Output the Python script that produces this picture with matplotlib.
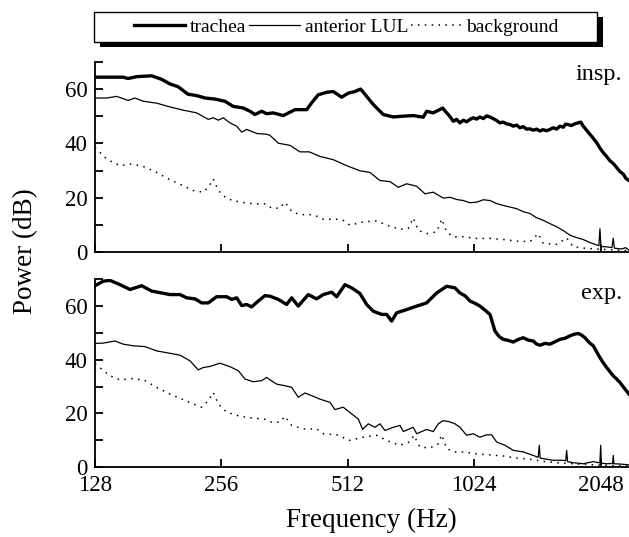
import matplotlib
matplotlib.use('Agg')
import matplotlib.pyplot as plt
from matplotlib.patches import Rectangle
from matplotlib.lines import Line2D
from matplotlib.ticker import NullLocator, FixedLocator

plt.rcParams['font.family'] = ['Liberation Serif', 'DejaVu Serif']

# ---------------- data (frequency in Hz, power in dB) ----------------
insp_trachea_f = [128, 149.5, 153.4, 160.9, 174.7, 184.5, 193.1, 201.8, 213.2, 223.6,
                  234, 247.2, 261.1, 273.3, 288.7, 299.5, 307.8, 319.3, 328.2, 340.3,
                  359.5, 383.3, 408.7, 420, 435.5, 456, 472.9, 495.1, 513.4, 532.6,
                  549.5, 567.9, 588.9, 622, 657.1, 694.2, 733.3, 774.6, 789.2, 818.3,
                  861.6, 875, 888.5, 900, 913.2, 930, 947.4, 965, 982, 1000.7,
                  1020, 1038, 1057.2, 1077, 1097, 1116.8, 1140, 1160, 1179.7, 1200,
                  1225, 1246.3, 1270, 1293, 1316.4, 1340, 1365, 1390.6, 1416, 1442,
                  1469, 1495, 1523, 1551.9, 1580, 1610, 1639.4, 1670, 1690, 1715.7,
                  1745, 1780, 1812.4, 1837, 1862.7, 1897, 1932.4, 1968, 2004.7, 2041,
                  2078.6, 2117, 2156.5, 2196, 2237.2, 2278, 2319.7, 2356, 2393.6]
insp_trachea_v = [64.5, 64.5, 64.0, 64.7, 65.0, 63.7, 62.0, 61.0, 58.2, 57.7,
                  56.8, 56.4, 55.6, 53.7, 53.1, 51.9, 50.7, 51.9, 51.0, 51.3,
                  50.3, 52.5, 52.5, 55.0, 58.0, 58.9, 59.2, 57.1, 58.6, 59.2,
                  60.1, 57.4, 54.4, 50.7, 49.8, 50.1, 50.3, 49.7, 51.9, 51.3,
                  53.1, 51.8, 50.7, 49.6, 48.2, 48.9, 47.6, 48.6, 48.0, 48.9,
                  49.5, 49.0, 49.8, 49.2, 50.2, 49.8, 49.1, 48.4, 47.6, 47.9,
                  47.2, 47.0, 46.4, 46.8, 45.8, 46.2, 45.3, 45.4, 44.9, 45.3,
                  44.6, 45.1, 44.7, 45.2, 45.8, 45.3, 46.4, 46.0, 47.1, 47.0,
                  46.6, 47.3, 47.6, 47.9, 46.4, 44.9, 43.4, 41.9, 40.3, 38.3,
                  36.6, 35.2, 33.6, 32.6, 31.1, 29.6, 28.7, 27.0, 26.3]

insp_lul_f = [128, 136.5, 144.2, 153.6, 159.4, 166.8, 179.5, 193.1, 207.7, 223.6,
              238.3, 244.9, 251.7, 258.7, 268.4, 278.4, 286.2, 294.1, 310.7, 328.2,
              334.2, 349.8, 372.9, 393.9, 414.6, 439.6, 472.9, 508.9, 547.4, 578.3,
              610.9, 645.3, 675.4, 707.2, 747.1, 781.9, 818.3, 864.4, 896.8, 930,
              964.7, 1000, 1038.3, 1077, 1116.8, 1158, 1201.2, 1246, 1292.8, 1340,
              1390.6, 1440, 1495.8, 1550, 1610.1, 1670, 1731.7, 1797, 1862.7, 1932,
              2004.7, 2030, 2041, 2053, 2117.9, 2180, 2196, 2210, 2237.2, 2300,
              2350, 2393.6]
insp_lul_v = [56.8, 56.8, 57.4, 55.9, 56.8, 55.6, 54.9, 53.5, 52.3, 51.3,
              48.9, 49.5, 48.6, 49.5, 47.6, 46.4, 44.2, 45.2, 43.7, 43.4,
              43.0, 40.1, 39.3, 36.9, 36.9, 35.2, 34.0, 31.8, 29.9, 29.3,
              26.3, 25.9, 23.8, 25.1, 24.2, 21.4, 22.0, 19.8, 20.1, 19.3,
              18.9, 18.1, 18.3, 19.2, 18.9, 17.8, 17.1, 16.5, 15.9, 14.8,
              14.1, 12.6, 11.6, 10.4, 9.2, 7.8, 6.1, 5.2, 4.5, 3.4,
              2.5, 2.2, 8.5, 1.9, 1.8, 1.5, 5.0, 1.3, 1.2, 1.0,
              1.5, 0.6]

insp_bg_f = [128, 136.5, 146.8, 156.5, 166.8, 179.5, 193.1, 207.7, 219.4, 231.8,
             238.3, 244.9, 251.7, 263.6, 283.5, 305, 325.1, 337.3, 353, 362.8,
             376.4, 393.9, 423.8, 447.6, 481.8, 499.5, 518.2, 557.4, 599.9, 633.7,
             681.7, 713.4, 733.3, 753.7, 789.2, 833.7, 856.9, 880.8, 913.2, 964.7,
             1038.3, 1116.8, 1201.2, 1292.8, 1390.6, 1455.4, 1495.8, 1610.1, 1700.8, 1763.3,
             1897.8, 2041.3, 2237.2, 2393.6]
insp_bg_v = [38.5, 34.2, 31.8, 32.4, 31.5, 29.3, 26.6, 24.4, 22.6, 22.0,
             23.8, 26.9, 22.6, 19.6, 18.3, 17.7, 17.7, 16.1, 16.1, 18.3,
             14.9, 13.7, 13.7, 12.0, 12.0, 11.6, 9.8, 11.0, 11.4, 9.8,
             8.3, 8.6, 12.5, 7.9, 6.7, 7.3, 12.1, 7.3, 5.5, 5.5,
             4.9, 4.9, 4.5, 3.9, 3.7, 6.7, 3.1, 2.7, 5.1, 1.8,
             1.2, 0.9, 0.6, 0.4]

exp_trachea_f = [128, 134, 139, 146.8, 155.1, 165.4, 174.7, 184.5, 193.1, 204,
                 211.6, 221.5, 229.8, 238.3, 249.5, 263.6, 270.9, 278.4, 286.2, 294.1,
                 302.3, 313.4, 325.1, 334.2, 349.8, 366.2, 376.4, 390.3, 412.3, 431.7,
                 447.6, 468.7, 481.8, 504.2, 523.1, 547.4, 567.9, 588.9, 616.6, 633.7,
                 651.3, 669.5, 707.2, 747.1, 789.2, 833.7, 880.8, 921.8, 947.4, 975,
                 1000.7, 1030, 1057.2, 1085, 1116.8, 1147.8, 1175, 1201.2, 1235, 1269,
                 1305, 1340.4, 1378, 1416, 1440, 1469, 1510, 1551.9, 1595, 1639.4,
                 1685, 1731.7, 1772, 1812.4, 1845, 1880.2, 1925, 1967.7, 2004, 2041.3,
                 2080, 2117.9, 2155, 2196, 2237, 2278.1, 2335, 2393.6]
exp_trachea_v = [67.6, 69.3, 69.6, 68.0, 66.2, 67.6, 65.6, 64.9, 64.3, 64.3,
                 63.1, 62.7, 61.2, 61.2, 63.5, 63.5, 62.5, 63.1, 60.2, 60.6,
                 59.7, 61.9, 63.9, 63.7, 62.5, 60.6, 63.1, 60.0, 64.3, 62.7,
                 64.3, 65.2, 63.5, 68.0, 66.8, 64.7, 60.6, 58.1, 56.9, 56.9,
                 54.4, 57.5, 58.7, 60.0, 61.2, 64.9, 67.4, 66.8, 64.9, 63.8,
                 61.9, 61.0, 60.0, 58.6, 56.9, 50.7, 48.6, 47.6, 47.2, 46.6,
                 47.6, 48.2, 47.3, 47.0, 45.9, 45.4, 46.1, 45.8, 46.7, 47.6,
                 48.0, 48.9, 49.5, 49.8, 49.2, 48.2, 46.4, 45.2, 43.0, 40.8,
                 38.8, 37.1, 35.6, 34.0, 32.8, 31.5, 29.3, 27.2]

exp_lul_f = [128, 134, 142.8, 149.5, 157.9, 168.4, 179.5, 193.1, 204, 215.5,
             225.5, 231.8, 240.5, 254, 268.4, 280.9, 291.4, 305, 319.3, 328.2,
             334.2, 346.7, 362.8, 376.4, 390.3, 404.9, 420, 439.6, 464.4, 477.3,
             499.5, 523.1, 542.4, 555.6, 572.9, 594.4, 610.9, 627.9, 657.1, 681.7,
             694.2, 733.3, 747.1, 789.2, 818.3, 841.1, 864.4, 896.8, 921.8, 947.4,
             982.8, 1019, 1057.2, 1096.7, 1127.2, 1158.5, 1212.6, 1269, 1340.4, 1416,
             1455, 1463.4, 1471, 1495.8, 1580.3, 1669.4, 1692, 1700.8, 1709, 1763.3,
             1862.7, 1967.7, 2041, 2049.3, 2058, 2117.9, 2188, 2196, 2204, 2278.1,
             2393.6]
exp_lul_v = [46.1, 46.2, 47.0, 45.8, 45.2, 44.9, 43.3, 42.4, 41.7, 39.6,
             36.2, 37.1, 37.5, 38.7, 37.4, 35.9, 32.8, 31.8, 32.2, 33.4,
             32.5, 30.9, 30.3, 29.7, 26.0, 27.6, 26.6, 25.3, 24.1, 21.4,
             22.3, 19.8, 17.9, 14.0, 16.1, 14.8, 16.1, 13.6, 14.8, 15.5,
             13.2, 14.8, 12.4, 14.0, 13.2, 16.1, 17.3, 16.8, 16.1, 14.8,
             11.8, 12.4, 11.1, 12.0, 12.0, 9.3, 8.1, 6.2, 5.6, 4.3,
             3.6, 8.1, 3.3, 3.1, 2.5, 2.5, 2.3, 6.2, 2.0, 1.6,
             1.2, 2.0, 1.5, 8.1, 1.4, 1.2, 1.3, 4.3, 1.2, 1.1,
             0.8]

exp_bg_f = [128, 139, 146.8, 157.9, 168.4, 179.5, 193.1, 207.7, 219.4, 229.8,
            238.3, 244.9, 251.7, 263.6, 283.5, 305, 325.1, 337.3, 353, 362.8,
            376.4, 401.1, 431.7, 447.6, 481.8, 518.2, 557.4, 599.9, 633.7, 681.7,
            720.1, 736.1, 760.7, 803.7, 841.1, 856.9, 880.8, 921.8, 964.7, 1038.3,
            1116.8, 1201.2, 1292.8, 1390.6, 1495.8, 1610.1, 1796.6, 2041.3, 2393.6]
exp_bg_v = [38.5, 34.0, 32.5, 33.0, 32.2, 29.7, 27.2, 25.1, 23.5, 22.3,
            24.7, 27.8, 23.5, 20.4, 18.9, 18.2, 17.8, 16.7, 16.7, 18.9,
            15.5, 14.2, 14.2, 12.4, 12.0, 9.9, 11.1, 11.8, 9.9, 8.1,
            9.4, 11.8, 7.4, 7.1, 8.6, 12.0, 6.8, 5.6, 5.6, 4.9,
            4.5, 4.1, 3.3, 2.9, 2.1, 1.6, 1.1, 0.7, 0.4]

xtick_vals = [128, 256, 512, 1024, 2048]
xtick_labels = ['128', '256', '512', '1024', '2048']
ymajor = [0, 20, 40, 60]
yminor = [10, 30, 50, 70]
series_names = ['trachea', 'anterior LUL', 'background']
panel_labels = ['insp.', 'exp.']

# ---------------- styles ----------------
styles = [dict(color='black', lw=2.4, ls='-', solid_joinstyle='round'),
          dict(color='black', lw=0.9, ls='-'),
          dict(color='black', lw=1.1, ls=(0, (1, 3.5)))]

fig = plt.figure(figsize=(6.29, 5.37), dpi=100)
ax1 = fig.add_axes([0.151, 0.5313, 0.849, 0.3527])
ax2 = fig.add_axes([0.151, 0.1304, 0.849, 0.3495])

panels = [
    (ax1, [(insp_trachea_f, insp_trachea_v), (insp_lul_f, insp_lul_v), (insp_bg_f, insp_bg_v)]),
    (ax2, [(exp_trachea_f, exp_trachea_v), (exp_lul_f, exp_lul_v), (exp_bg_f, exp_bg_v)]),
]

for i, (ax, data) in enumerate(panels):
    for (f, v), st in zip(data[::-1], styles[::-1]):
        ax.plot(f, v, **st)
    ax.set_xscale('log', base=2)
    ax.set_xlim(128, 2394)
    ax.set_ylim(0, 70)
    ax.spines[['top', 'right']].set_visible(False)
    ax.spines[['left', 'bottom']].set_linewidth(1.3)
    ax.xaxis.set_major_locator(FixedLocator(xtick_vals))
    ax.xaxis.set_minor_locator(NullLocator())
    if i == 1:
        ax.set_xticklabels(xtick_labels)
    else:
        ax.set_xticklabels([])
    ax.set_yticks(ymajor)
    ax.set_yticks(yminor, minor=True)
    ax.set_yticklabels([str(t) for t in ymajor])
    ax.tick_params(which='both', direction='in', length=6, width=1.3,
                   labelsize=16.5)
    ax.tick_params(axis='y', pad=5.5)
    ax.tick_params(axis='x', pad=5.5)
    ax.patch.set_alpha(0)

ax1.text(0.987, 0.906, panel_labels[0], transform=ax1.transAxes,
         ha='right', va='baseline', fontsize=17.5)
ax2.text(0.987, 0.897, panel_labels[1], transform=ax2.transAxes,
         ha='right', va='baseline', fontsize=17.5)

fig.text(0.59, 0.030, 'Frequency (Hz)', ha='center', va='center', fontsize=19.5)
fig.text(0.04, 0.533, 'Power (dB)', ha='center', va='center', rotation=90, fontsize=19.5)

# legend box with solid shadow
W, H = 629.0, 537.0
bx0, bx1, by_top, by_bot = 94, 597, 12, 42
shadow = Rectangle(((bx0 + 6) / W, 1 - (by_bot + 5) / H), (bx1 - bx0) / W, (by_bot - by_top) / H,
                   transform=fig.transFigure, facecolor='black', edgecolor='black', lw=0, zorder=1)
box = Rectangle((bx0 / W, 1 - by_bot / H), (bx1 - bx0) / W, (by_bot - by_top) / H,
                transform=fig.transFigure, facecolor='white', edgecolor='black', lw=1.0, zorder=2)
fig.add_artist(shadow)
fig.add_artist(box)

handles = [Line2D([], [], **st) for st in styles]
leg = fig.legend(handles, series_names, loc='center', bbox_to_anchor=(0.551, 0.9497),
                 ncol=3, frameon=False, fontsize=14, handlelength=2.6,
                 handletextpad=0.25, columnspacing=0.15, borderpad=0, borderaxespad=0)
leg.set_zorder(3)

fig.savefig('out.png', dpi=100)
